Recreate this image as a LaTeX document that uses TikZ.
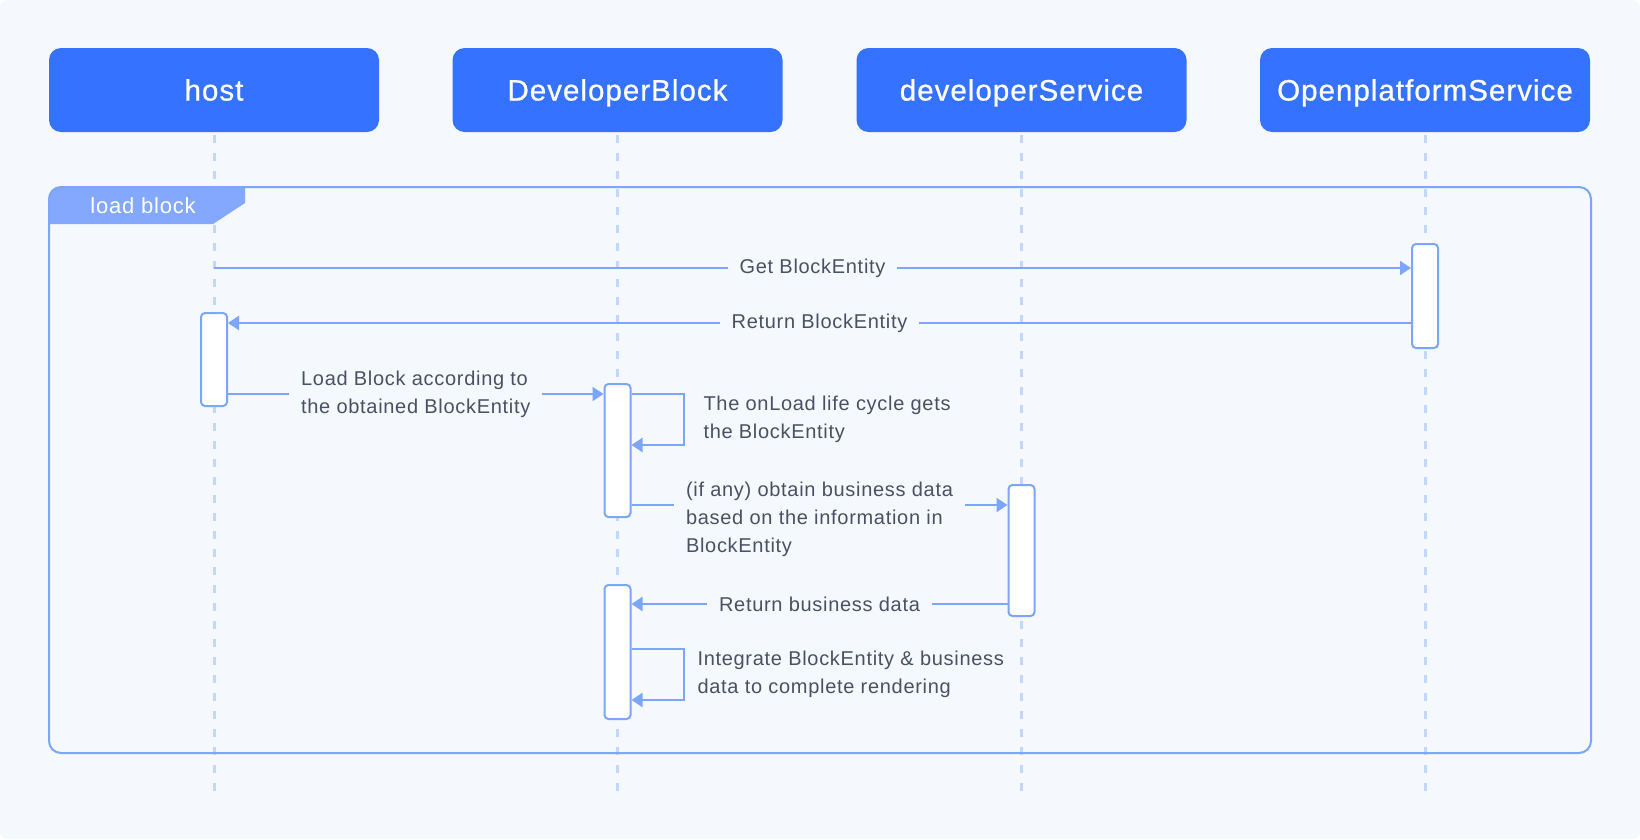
\documentclass[tikz,border=0pt]{standalone}
\usepackage{fontspec}
\setmainfont{Liberation Sans}[LetterSpace=3.5]
\newfontfamily\headfont{Liberation Sans}[LetterSpace=3.5,FakeBold=0.8]
\usetikzlibrary{arrows.meta}
\definecolor{bgc}{HTML}{F5F8FC}
\definecolor{hdrc}{HTML}{3572FF}
\definecolor{tabc}{HTML}{85A8FF}
\definecolor{linec}{HTML}{7DA5FA}
\definecolor{lifec}{HTML}{C4D7FB}
\definecolor{txtc}{HTML}{4A5163}
\begin{document}
\begin{tikzpicture}[x=1pt,y=-1pt,
    head/.style={fill=hdrc,rounded corners=12pt,minimum width=330pt,minimum height=84pt,
      text=white,text height=21pt,text depth=0pt,font=\headfont\fontsize{29.5}{34}\selectfont},
    lifeline/.style={draw=lifec,line width=3pt,dash pattern=on 8pt off 10pt},
    act/.style={draw=linec,line width=2pt,fill=white,rounded corners=4pt,minimum width=26pt,inner sep=0pt},
    msg/.style={draw=linec,line width=2pt,-{Triangle[length=11pt,width=14pt]}},
    lbl/.style={fill=bgc,text=txtc,font=\fontsize{20}{28}\selectfont,inner xsep=12pt,inner ysep=2pt,align=left}]
  \fill[white] (0,0) rectangle (1640,839);
  \fill[bgc,rounded corners=8pt] (0,0) rectangle (1640,839);
  \node[head] (host) at (214,90) {host};
  \node[head] (devblock) at (617.5,90) {DeveloperBlock};
  \node[head] (devservice) at (1021.5,90) {developerService};
  \node[head] (openplat) at (1425,90) {OpenplatformService};
  \foreach \n in {host,devblock,devservice,openplat}
    \draw[lifeline] (\n.south) ++(0,3) -- ++(0,663);
  \begin{scope}
    \clip[rounded corners=12pt] (49,187) rectangle (1591,753);
    \fill[tabc] (49,187) -- (245,187) -- (245,203) -- (213,224) -- (49,224) -- cycle;
  \end{scope}
  \draw[linec,line width=2pt,rounded corners=12pt] (49,187) rectangle (1591,753);
  \node[text=white,font=\fontsize{22}{26}\selectfont] (frame) at (143,206) {load block};
  \node[act,minimum height=104pt] (op1) at (openplat.south |- 0,296) {};
  \node[act,minimum height=93pt] (h1) at (host.south |- 0,359.5) {};
  \node[act,minimum height=133pt] (db1) at (devblock.south |- 0,450.5) {};
  \node[act,minimum height=131pt] (ds1) at (devservice.south |- 0,550.5) {};
  \node[act,minimum height=134pt] (db2) at (devblock.south |- 0,652) {};
  \draw[msg] (host.south |- 0,268) -- node[lbl] (l1) {Get BlockEntity} (op1.west |- 0,268);
  \draw[msg] (op1.west |- 0,323) -- node[lbl] (l2) {Return BlockEntity} (h1.east |- 0,323);
  \draw[msg] (h1.east |- 0,394) -- node[lbl] (l3) {Load Block according to\\the obtained BlockEntity} (db1.west |- 0,394);
  \draw[msg] (db1.east |- 0,394) -- ++(52,0) -- ++(0,51)
    node[lbl,midway,anchor=west,fill=none,xshift=7pt] (l4) {The onLoad life cycle gets\\the BlockEntity}
    -- (db1.east |- 0,445);
  \draw[msg] (db1.east |- 0,505) -- node[lbl,yshift=-14pt] (l5) {(if any) obtain business data\\based on the information in\\BlockEntity} (ds1.west |- 0,505);
  \draw[msg] (ds1.west |- 0,604) -- node[lbl] (l6) {Return business data} (db2.east |- 0,604);
  \draw[msg] (db2.east |- 0,649) -- ++(52,0) -- ++(0,51)
    node[lbl,midway,anchor=west,fill=none,xshift=1pt] (l7) {Integrate BlockEntity \& business\\data to complete rendering}
    -- (db2.east |- 0,700);
\end{tikzpicture}
\end{document}
